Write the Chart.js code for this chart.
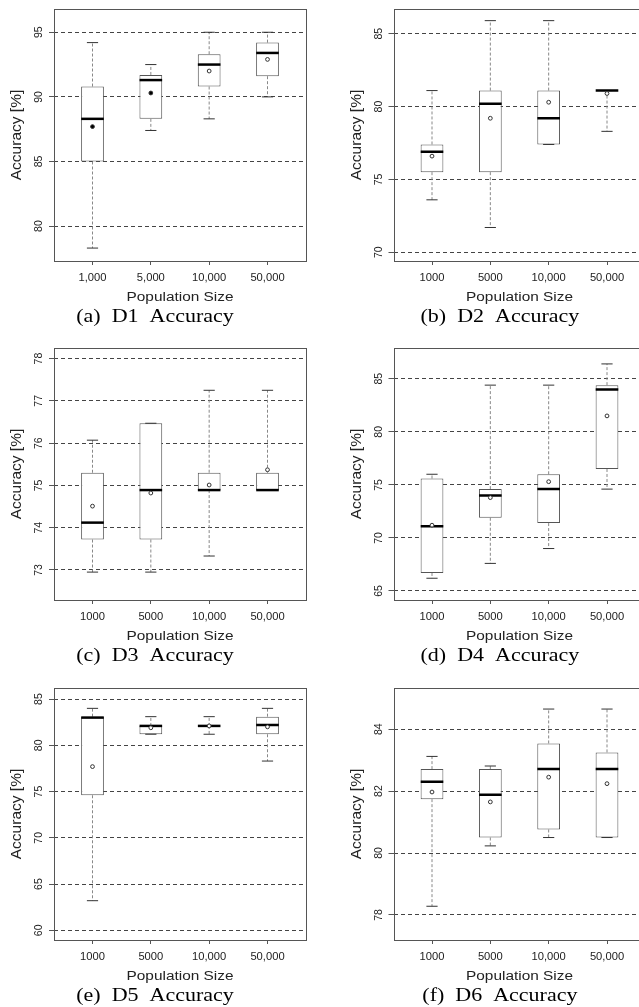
<!DOCTYPE html>
<html>
<head>
<meta charset="utf-8">
<script src="https://cdn.jsdelivr.net/npm/chart.js@4.4.1/dist/chart.umd.min.js"></script>
<style>
  html, body { margin: 0; padding: 0; background: #fff; }
  body { width: 639px; height: 1007px; position: relative; overflow: hidden; }
  .panel { position: absolute; width: 330px; height: 338px; }
  .panel canvas { width: 330px; height: 338px; max-width: none; }
</style>
</head>
<body>
<div class="panel" style="left:0;top:0"><canvas id="d1" width="330" height="338"></canvas></div>
<div class="panel" style="left:320px;top:0"><canvas id="d2" width="330" height="338"></canvas></div>
<div class="panel" style="left:0;top:339px"><canvas id="d3" width="330" height="338"></canvas></div>
<div class="panel" style="left:320px;top:339px"><canvas id="d4" width="330" height="338"></canvas></div>
<div class="panel" style="left:0;top:679px"><canvas id="d5" width="330" height="338"></canvas></div>
<div class="panel" style="left:320px;top:679px"><canvas id="d6" width="330" height="338"></canvas></div>
<script>
// D1
const d1Labels = ['1,000', '5,000', '10,000', '50,000'];
const d1Lo   = [78.3, 87.4, 88.3, 90.0];
const d1Q1   = [85.0, 88.3, 90.8, 91.6];
const d1Med  = [88.3, 91.3, 92.5, 93.4];
const d1Q3   = [90.8, 91.7, 93.3, 94.2];
const d1Hi   = [94.2, 92.5, 95.0, 95.0];
const d1Mean = [87.7, 90.3, 92.0, 92.9];
const d1Ticks = [80, 85, 90, 95];
const d1Range = [77.3, 96.8];

// D2
const d2Labels = ['1000', '5000', '10,000', '50,000'];
const d2Lo   = [73.6, 71.7, 77.4, 78.3];
const d2Q1   = [75.5, 75.5, 77.4, 81.1];
const d2Med  = [76.9, 80.2, 79.2, 81.1];
const d2Q3   = [77.4, 81.1, 81.1, 81.1];
const d2Hi   = [81.1, 85.9, 85.9, 81.1];
const d2Mean = [76.6, 79.2, 80.3, 80.9];
const d2Ticks = [70, 75, 80, 85];
const d2Range = [69.4, 86.7];

// D3
const d3Labels = ['1000', '5000', '10,000', '50,000'];
const d3Lo   = [72.95, 72.95, 73.33, 74.89];
const d3Q1   = [73.72, 73.72, 74.89, 74.89];
const d3Med  = [74.12, 74.89, 74.89, 74.89];
const d3Q3   = [75.30, 76.47, 75.30, 75.30];
const d3Hi   = [76.07, 76.47, 77.25, 77.25];
const d3Mean = [74.51, 74.82, 75.01, 75.37];
const d3Ticks = [73, 74, 75, 76, 77, 78];
const d3Range = [72.29, 78.25];

// D4
const d4Labels = ['1000', '5000', '10,000', '50,000'];
const d4Lo   = [66.2, 67.6, 69.0, 74.6];
const d4Q1   = [66.7, 71.9, 71.4, 76.5];
const d4Med  = [71.1, 74.0, 74.6, 84.0];
const d4Q3   = [75.6, 74.6, 76.0, 84.4];
const d4Hi   = [76.0, 84.4, 84.4, 86.4];
const d4Mean = [71.2, 73.8, 75.3, 81.5];
const d4Ticks = [65, 70, 75, 80, 85];
const d4Range = [64.15, 87.9];

// D5
const d5Labels = ['1000', '5000', '10,000', '50,000'];
const d5Lo   = [63.2, 81.2, 81.2, 78.3];
const d5Q1   = [74.6, 81.2, 82.1, 81.2];
const d5Med  = [83.0, 82.1, 82.1, 82.2];
const d5Q3   = [83.1, 82.1, 82.1, 83.1];
const d5Hi   = [84.0, 83.1, 83.1, 84.0];
const d5Mean = [77.7, 81.9, 82.1, 82.0];
const d5Ticks = [60, 65, 70, 75, 80, 85];
const d5Range = [58.95, 86.2];

// D6
const d6Labels = ['1000', '5000', '10,000', '50,000'];
const d6Lo   = [78.28, 80.23, 80.50, 80.50];
const d6Q1   = [81.74, 80.50, 80.76, 80.50];
const d6Med  = [82.30, 81.88, 82.71, 82.71];
const d6Q3   = [82.71, 82.71, 83.54, 83.25];
const d6Hi   = [83.12, 82.81, 84.65, 84.65];
const d6Mean = [81.97, 81.65, 82.45, 82.24];
const d6Ticks = [78, 80, 82, 84];
const d6Range = [77.19, 85.33];

// frame, R-style rotated y labels and the captions
const rText = {
  id: 'rText',
  afterDraw(chart, args, o) {
    const {ctx, chartArea: a, scales: {x, y}} = chart;
    ctx.save();
    ctx.strokeStyle = '#555';
    ctx.lineWidth = 1;
    ctx.strokeRect(Math.round(a.left) + 0.5, Math.round(a.top) + 0.5,
      Math.round(a.right - a.left), Math.round(a.bottom - a.top));

    ctx.fillStyle = '#222';
    ctx.textAlign = 'center';
    ctx.textBaseline = 'middle';
    ctx.font = '10.5px "Liberation Sans"';
    y.ticks.forEach(t => {
      ctx.save();
      ctx.translate(a.left - 14.8, y.getPixelForValue(t.value));
      ctx.rotate(-Math.PI / 2);
      ctx.fillText(String(t.value), 0, 0);
      ctx.restore();
    });

    ctx.save();
    ctx.font = '15.5px "Liberation Sans"';
    ctx.translate(a.left - 37, (a.top + a.bottom) / 2);
    ctx.rotate(-Math.PI / 2);
    ctx.fillText('Accuracy [%]', 0, 0);
    ctx.restore();

    ctx.textBaseline = 'alphabetic';
    ctx.font = '11.2px "Liberation Sans"';
    x.ticks.forEach(t => {
      ctx.save();
      ctx.translate(x.getPixelForValue(t.value), a.bottom + 20);
      ctx.scale(1, 0.9);
      ctx.fillText(o.labels[t.value], 0, 0);
      ctx.restore();
    });

    ctx.save();
    ctx.font = '15.4px "Liberation Sans"';
    ctx.translate((a.left + a.right) / 2, a.bottom + 40);
    ctx.scale(1, 0.85);
    ctx.fillText('Population Size', 0, 0);
    ctx.restore();

    ctx.save();
    ctx.fillStyle = '#000';
    ctx.font = '22px "Liberation Serif"';
    ctx.translate(a.left + o.capDx, a.bottom + 60.5);
    ctx.scale(1, 0.85);
    ctx.fillText(o.caption, 0, 0);
    ctx.restore();
    ctx.restore();
  }
};

function boxChart(id, p) {
  const idx = p.labels.map((l, i) => i);
  const whiskers = [];
  idx.forEach(i => {
    whiskers.push({x: i, y: p.q3[i]}, {x: i, y: p.hi[i]}, {x: i, y: null},
                  {x: i, y: p.q1[i]}, {x: i, y: p.lo[i]}, {x: i, y: null});
  });
  const plotTop = 9, plotH = 252, plotW = 252;

  return new Chart(document.getElementById(id), {
    type: 'bar',
    data: {
      datasets: [
        { // means
          type: 'scatter', order: 0,
          data: idx.map(i => ({x: i, y: p.mean[i]})),
          pointStyle: 'circle', pointRadius: 1.9,
          pointBorderWidth: 1, pointBorderColor: '#333',
          pointBackgroundColor: p.meanFill || '#fff'
        },
        { // medians
          type: 'scatter', order: 1,
          data: idx.map(i => ({x: i, y: p.med[i]})),
          pointStyle: 'line', pointRadius: 11.3,
          pointBorderWidth: 2.5, pointBorderColor: '#000'
        },
        { // whisker caps
          type: 'scatter', order: 2,
          data: idx.flatMap(i => [{x: i, y: p.hi[i]}, {x: i, y: p.lo[i]}]),
          pointStyle: 'line', pointRadius: 5.6,
          pointBorderWidth: 1, pointBorderColor: '#333'
        },
        { // boxes
          type: 'bar', order: 3,
          data: idx.map(i => ({x: i, y: [p.q1[i], p.q3[i]]})),
          backgroundColor: '#fff', borderColor: '#555', borderWidth: 1,
          borderSkipped: false, barPercentage: 0.39, categoryPercentage: 1
        },
        { // whiskers
          type: 'line', order: 4,
          data: whiskers,
          borderColor: '#888', borderWidth: 1, borderDash: [3, 2],
          pointRadius: 0, spanGaps: false, fill: false
        }
      ]
    },
    options: {
      responsive: false,
      animation: false,
      devicePixelRatio: 1,
      layout: {
        autoPadding: false,
        padding: {
          left: p.plotLeft - 5,
          top: plotTop,
          right: 330 - p.plotLeft - plotW,
          bottom: 338 - plotTop - plotH - 4
        }
      },
      plugins: {
        legend: { display: false },
        tooltip: { enabled: false },
        rText: { labels: p.labels, caption: p.caption, capDx: p.capDx }
      },
      scales: {
        x: {
          type: 'linear',
          min: -0.66,
          max: 3.66,
          offset: false,
          afterBuildTicks: s => { s.ticks = idx.map(i => ({value: i})); },
          ticks: { display: false },
          grid: { drawOnChartArea: false, drawTicks: true, tickLength: 4, tickColor: '#555', offset: false },
          border: { display: false }
        },
        y: {
          min: p.range[0],
          max: p.range[1],
          afterBuildTicks: s => { s.ticks = p.ticks.map(v => ({value: v})); },
          ticks: { display: false },
          grid: { color: '#444', drawTicks: true, tickLength: 5, tickColor: '#555' },
          border: { display: false, dash: [4, 3] }
        }
      }
    },
    plugins: [rText]
  });
}

boxChart('d1', { labels: d1Labels, lo: d1Lo, q1: d1Q1, med: d1Med, q3: d1Q3, hi: d1Hi, mean: d1Mean,
  ticks: d1Ticks, range: d1Range, meanFill: ['#000', '#000', '#fff', '#fff'],
  plotLeft: 54, capDx: 101, caption: '(a)  D1  Accuracy' });
boxChart('d2', { labels: d2Labels, lo: d2Lo, q1: d2Q1, med: d2Med, q3: d2Q3, hi: d2Hi, mean: d2Mean,
  ticks: d2Ticks, range: d2Range, plotLeft: 73.5, capDx: 106.4, caption: '(b)  D2  Accuracy' });
boxChart('d3', { labels: d3Labels, lo: d3Lo, q1: d3Q1, med: d3Med, q3: d3Q3, hi: d3Hi, mean: d3Mean,
  ticks: d3Ticks, range: d3Range, plotLeft: 54, capDx: 101, caption: '(c)  D3  Accuracy' });
boxChart('d4', { labels: d4Labels, lo: d4Lo, q1: d4Q1, med: d4Med, q3: d4Q3, hi: d4Hi, mean: d4Mean,
  ticks: d4Ticks, range: d4Range, plotLeft: 73.5, capDx: 106.4, caption: '(d)  D4  Accuracy' });
boxChart('d5', { labels: d5Labels, lo: d5Lo, q1: d5Q1, med: d5Med, q3: d5Q3, hi: d5Hi, mean: d5Mean,
  ticks: d5Ticks, range: d5Range, plotLeft: 54, capDx: 101, caption: '(e)  D5  Accuracy' });
boxChart('d6', { labels: d6Labels, lo: d6Lo, q1: d6Q1, med: d6Med, q3: d6Q3, hi: d6Hi, mean: d6Mean,
  ticks: d6Ticks, range: d6Range, plotLeft: 73.5, capDx: 106.4, caption: '(f)  D6  Accuracy' });
</script>
</body>
</html>
